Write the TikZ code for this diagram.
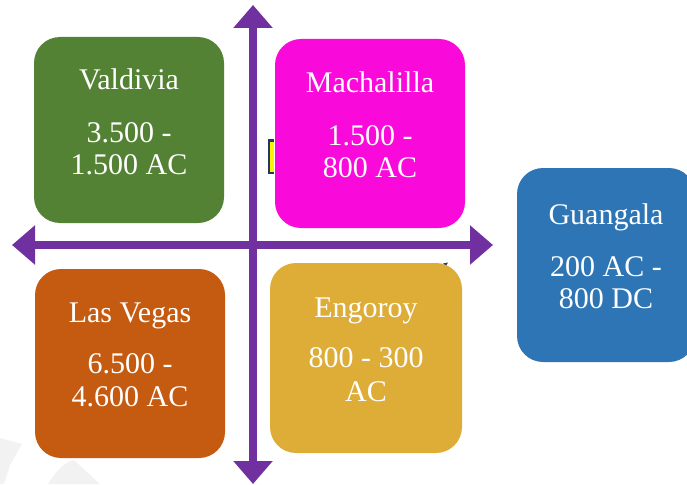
\documentclass[tikz,border=0pt]{standalone}
\usepackage{fontspec}
\setmainfont{Liberation Serif}
\usetikzlibrary{arrows.meta}
\definecolor{cpurple}{HTML}{7030A0}
\definecolor{cgreen}{HTML}{548235}
\definecolor{cmagenta}{HTML}{FA0ADA}
\definecolor{corange}{HTML}{C55A11}
\definecolor{cgold}{HTML}{DEAD37}
\definecolor{cblue}{HTML}{2E75B6}
\definecolor{cnavy}{HTML}{1F3864}
\definecolor{cwater}{HTML}{F2F2F2}
\tikzset{
  axis/.style={draw=cpurple, line width=8pt,
    {Triangle[length=23pt,width=38pt]}-{Triangle[length=23pt,width=38pt]}},
  card/.style={rectangle, rounded corners=26pt, draw=none, inner sep=0pt},
  txt/.style={anchor=base, text=white, inner sep=0pt,
    font=\fontsize{30}{33}\selectfont},
}
\begin{document}
\begin{tikzpicture}[x=1pt,y=-1pt]
\useasboundingbox (0,0) rectangle (687,484);
\clip (0,0) rectangle (687,484);
% faint watermark pieces
\fill[cwater] (0,438) -- (22,444) -- (10,465) -- (4,484) -- (0,484) -- cycle;
\fill[cwater] (48,484) .. controls (58,468) and (66,462) .. (74,460) -- (100,484) -- cycle;
% axes
\coordinate (top) at (253,5);
\coordinate (bot) at (253,484);
\coordinate (lft) at (12,245);
\coordinate (rgt) at (493,245);
\draw[axis] (top) -- (bot);
\draw[axis] (lft) -- (rgt);
% small artefacts
\fill[cnavy] (267.5,139) rectangle (273.5,174);
\fill[yellow] (269.5,141.5) rectangle (273.5,171.5);
\fill[cnavy] (443,263.5) -- (448,262.5) -- (446,266) -- cycle;
% boxes
\node[card, fill=cgreen, minimum width=190pt, minimum height=186pt] (valdivia) at (129,130) {};
\node[card, fill=cmagenta, minimum width=190pt, minimum height=189pt] (machalilla) at (370,133.5) {};
\node[card, fill=corange, minimum width=190pt, minimum height=189pt] (lasvegas) at (130,363.5) {};
\node[card, fill=cgold, minimum width=192pt, minimum height=190pt] (engoroy) at (366,358) {};
\node[card, fill=cblue, minimum width=178pt, minimum height=194pt] (guangala) at (606,265) {};
% texts
\node[txt] (valdivia-t) at (129,90) {Valdivia};
\node[txt] (valdivia-a) at (129,142) {3.500 -};
\node[txt] (valdivia-b) at (129,174) {1.500 AC};
\node[txt] (machalilla-t) at (370,93) {Machalilla};
\node[txt] (machalilla-a) at (370,145) {1.500 -};
\node[txt] (machalilla-b) at (370,177) {800 AC};
\node[txt] (lasvegas-t) at (130,322) {Las Vegas};
\node[txt] (lasvegas-a) at (130,373) {6.500 -};
\node[txt] (lasvegas-b) at (130,406) {4.600 AC};
\node[txt] (engoroy-t) at (366,317) {Engoroy};
\node[txt] (engoroy-a) at (366,367) {800 - 300};
\node[txt] (engoroy-b) at (366,401) {AC};
\node[txt] (guangala-t) at (606,224) {Guangala};
\node[txt] (guangala-a) at (606,276) {200 AC -};
\node[txt] (guangala-b) at (606,308) {800 DC};
\end{tikzpicture}
\end{document}
